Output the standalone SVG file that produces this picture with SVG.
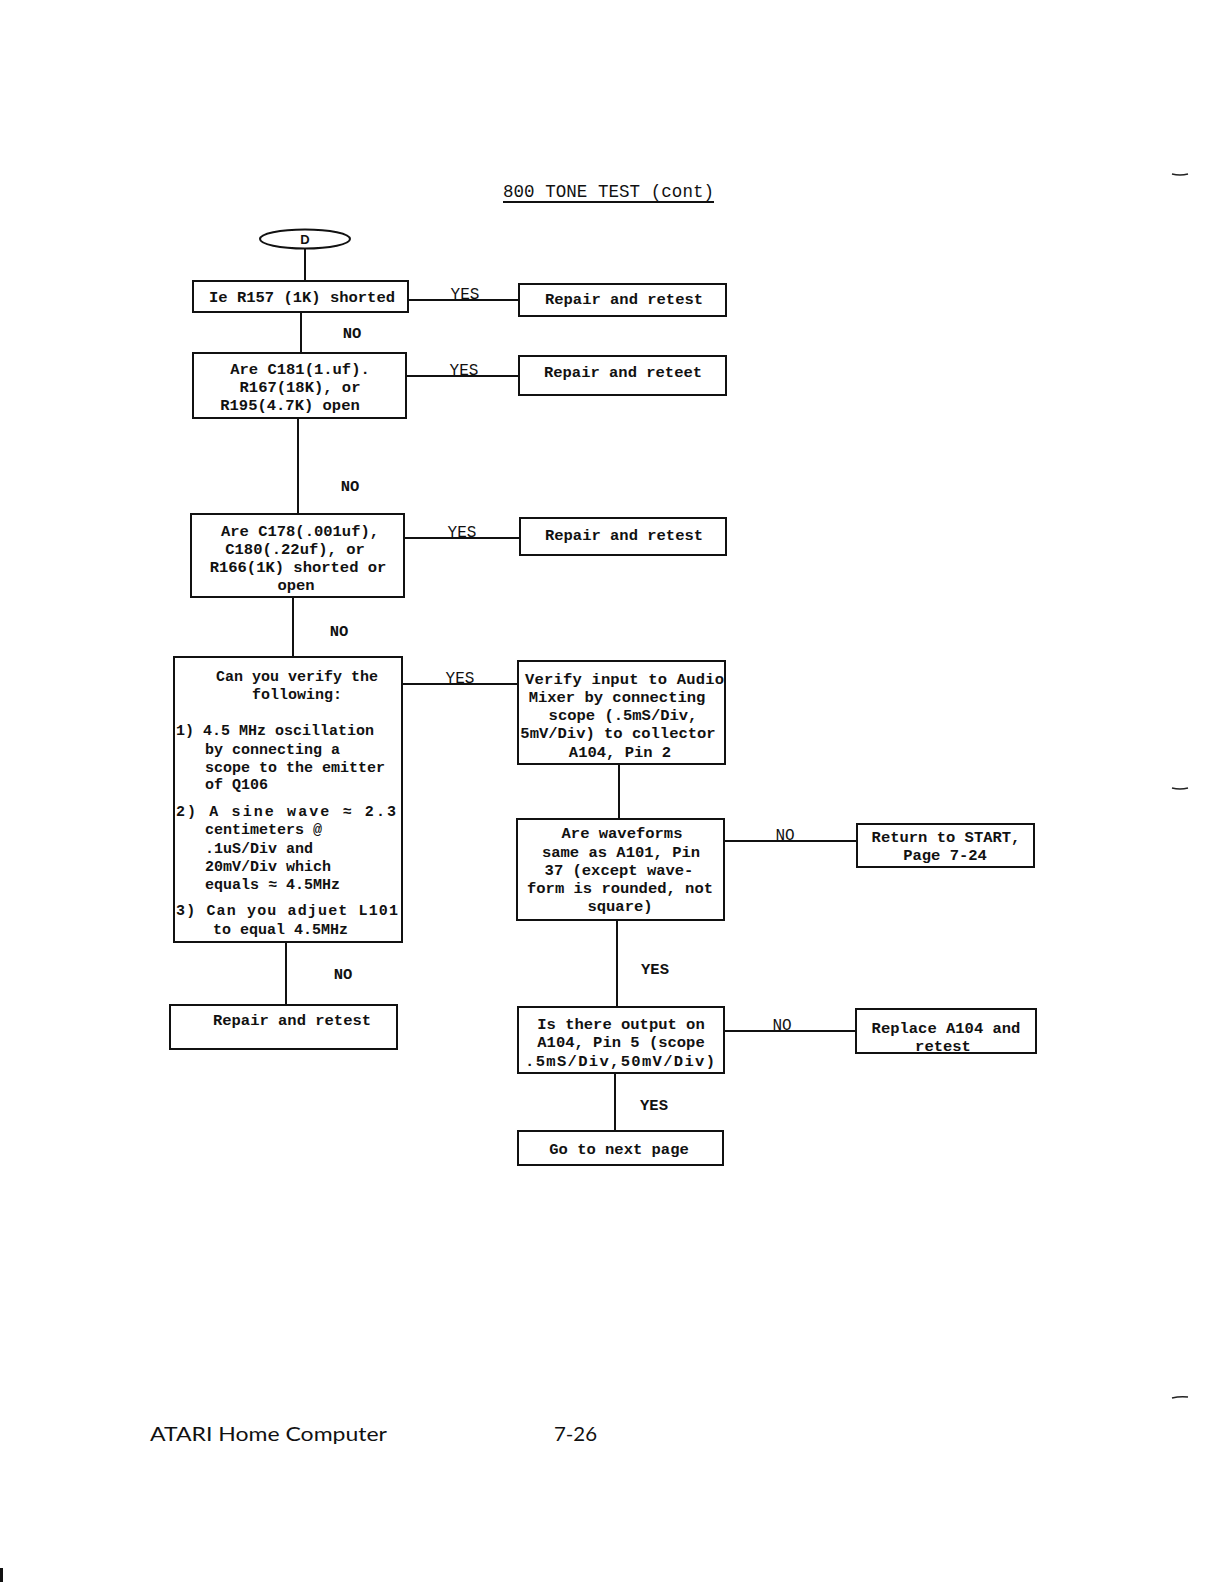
<svg xmlns="http://www.w3.org/2000/svg" width="1224" height="1582" viewBox="0 0 1224 1582">
<style>
.box{fill:#fff;stroke:#111;stroke-width:2}
.ln{stroke:#111;stroke-width:2;fill:none}
.t{font-family:"Liberation Mono","DejaVu Sans Mono",monospace;font-weight:bold;font-size:15.5px;fill:#111;text-anchor:middle}
.s{font-size:15px}
.l{text-anchor:start}
.lab{font-family:"Liberation Mono","DejaVu Sans Mono",monospace;font-size:16px;fill:#111;text-anchor:middle}
.foot{font-family:Lato,"Open Sans","Liberation Sans",sans-serif;font-size:20px;fill:#111}
</style>
<rect width="1224" height="1582" fill="#fff"/>
<g id="title">
<text x="503" y="197" font-family="Liberation Mono, monospace" font-size="17.5px" fill="#111" textLength="211">800 TONE TEST (cont)</text>
<line class="ln" x1="503" y1="202" x2="714" y2="202" stroke-width="1.5"/>
</g>
<g id="connectors">
<line class="ln" x1="305" y1="249" x2="305" y2="281"/>
<line class="ln" x1="408" y1="300" x2="519" y2="300"/>
<line class="ln" x1="301" y1="312" x2="301" y2="353"/>
<line class="ln" x1="406" y1="376" x2="519" y2="376"/>
<line class="ln" x1="298" y1="418" x2="298" y2="514"/>
<line class="ln" x1="404" y1="538" x2="520" y2="538"/>
<line class="ln" x1="293" y1="597" x2="293" y2="657"/>
<line class="ln" x1="402" y1="684" x2="518" y2="684"/>
<line class="ln" x1="619" y1="764" x2="619" y2="819"/>
<line class="ln" x1="724" y1="841" x2="857" y2="841"/>
<line class="ln" x1="617" y1="920" x2="617" y2="1007"/>
<line class="ln" x1="724" y1="1031" x2="856" y2="1031"/>
<line class="ln" x1="615" y1="1073" x2="615" y2="1131"/>
<line class="ln" x1="286" y1="942" x2="286" y2="1005"/>
<text class="lab" x="465" y="299">YES</text>
<text class="lab" x="464" y="375">YES</text>
<text class="lab" x="462" y="537">YES</text>
<text class="lab" x="460" y="683">YES</text>
<text class="t" x="352" y="338">NO</text>
<text class="t" x="350" y="491">NO</text>
<text class="t" x="339" y="636">NO</text>
<text class="t" x="343" y="979">NO</text>
<text class="lab" x="785" y="840">NO</text>
<text class="lab" x="782" y="1030">NO</text>
<text class="t" x="655" y="974">YES</text>
<text class="t" x="654" y="1110">YES</text>
</g>
<g id="start-D">
<ellipse cx="305" cy="239" rx="45" ry="9.5" fill="#fff" stroke="#111" stroke-width="2"/>
<text x="305" y="244" font-family="Liberation Sans, sans-serif" font-weight="bold" font-size="13px" text-anchor="middle" fill="#111">D</text>
</g>
<g id="q1">
<rect class="box" x="193" y="281" width="215" height="31"/>
<text class="t" x="302" y="302" font-size="16px">Ie R157 (1K) shorted</text>
</g>
<g id="r1">
<rect class="box" x="519" y="284" width="207" height="32"/>
<text class="t" x="624" y="304">Repair and retest</text>
</g>
<g id="q2">
<rect class="box" x="193" y="353" width="213" height="65"/>
<text class="t" x="300" y="374">Are C181(1.uf).</text>
<text class="t" x="300" y="392">R167(18K), or</text>
<text class="t" x="290" y="410">R195(4.7K) open</text>
</g>
<g id="r2">
<rect class="box" x="519" y="356" width="207" height="39"/>
<text class="t" x="623" y="377">Repair and reteet</text>
</g>
<g id="q3">
<rect class="box" x="191" y="514" width="213" height="83"/>
<text class="t" x="300" y="536">Are C178(.001uf),</text>
<text class="t" x="295" y="554">C180(.22uf), or</text>
<text class="t" x="298" y="572">R166(1K) shorted or</text>
<text class="t" x="296" y="590">open</text>
</g>
<g id="r3">
<rect class="box" x="520" y="518" width="206" height="37"/>
<text class="t" x="624" y="540">Repair and retest</text>
</g>
<g id="q4">
<rect class="box" x="174" y="657" width="228" height="285"/>
<text class="t s" x="297" y="681">Can you verify the</text>
<text class="t s" x="297" y="699">following:</text>
<text class="t s l" x="176" y="735">1) 4.5 MHz oscillation</text>
<text class="t s l" x="205" y="754">by connecting a</text>
<text class="t s l" x="205" y="772">scope to the emitter</text>
<text class="t s l" x="205" y="789">of Q106</text>
<text class="t s l" x="176" y="816" textLength="220" lengthAdjust="spacing">2) A sine wave  ≈  2.3</text>
<text class="t s l" x="205" y="834">centimeters @</text>
<text class="t s l" x="205" y="853">.1uS/Div and</text>
<text class="t s l" x="205" y="871">20mV/Div which</text>
<text class="t s l" x="205" y="889">equals ≈  4.5MHz</text>
<text class="t s l" x="176" y="915" textLength="222" lengthAdjust="spacing">3)  Can you adjuet L101</text>
<text class="t s l" x="213" y="934">to equal 4.5MHz</text>
</g>
<g id="p5">
<rect class="box" x="518" y="661" width="207" height="103"/>
<text class="t l" x="525" y="684" textLength="199" lengthAdjust="spacing">Verify input to Audio</text>
<text class="t" x="617" y="702">Mixer by connecting</text>
<text class="t" x="623" y="720">scope (.5mS/Div,</text>
<text class="t" x="618" y="738">5mV/Div) to collector</text>
<text class="t" x="620" y="757">A104, Pin 2</text>
</g>
<g id="q6">
<rect class="box" x="517" y="819" width="207" height="101"/>
<text class="t" x="622" y="838">Are waveforms</text>
<text class="t" x="621" y="857">same as A101, Pin</text>
<text class="t" x="619" y="875">37 (except wave-</text>
<text class="t" x="620" y="893">form is rounded, not</text>
<text class="t" x="620" y="911">square)</text>
</g>
<g id="r7">
<rect class="box" x="857" y="824" width="177" height="43"/>
<text class="t" x="946" y="842">Return to START,</text>
<text class="t" x="945" y="860">Page 7-24</text>
</g>
<g id="q8">
<rect class="box" x="518" y="1007" width="206" height="66"/>
<text class="t" x="621" y="1029">Is there output on</text>
<text class="t" x="621" y="1047">A104, Pin 5 (scope</text>
<text class="t" x="620" y="1066" textLength="190" lengthAdjust="spacing">.5mS/Div,50mV/Div)</text>
</g>
<g id="r9">
<rect class="box" x="856" y="1009" width="180" height="44"/>
<text class="t" x="946" y="1033">Replace A104 and</text>
<text class="t" x="943" y="1051">retest</text>
</g>
<g id="r10">
<rect class="box" x="518" y="1131" width="205" height="34"/>
<text class="t" x="619" y="1154">Go to next page</text>
</g>
<g id="r11">
<rect class="box" x="170" y="1005" width="227" height="44"/>
<text class="t" x="292" y="1025">Repair and retest</text>
</g>
<g id="footer">
<text class="foot" x="150" y="1441" textLength="237" lengthAdjust="spacingAndGlyphs">ATARI Home Computer</text>
<text class="foot" x="554" y="1441" textLength="43" lengthAdjust="spacingAndGlyphs">7-26</text>
</g>
<g id="marks" stroke="#222" stroke-width="1.5" fill="none">
<path d="M1172 174 q8 2 16 0"/>
<path d="M1172 788 q8 2 16 0"/>
<path d="M1172 1398 q8 -2 16 -1"/>
<rect x="0" y="1568" width="3" height="14" fill="#111" stroke="none"/>
</g>
</svg>
